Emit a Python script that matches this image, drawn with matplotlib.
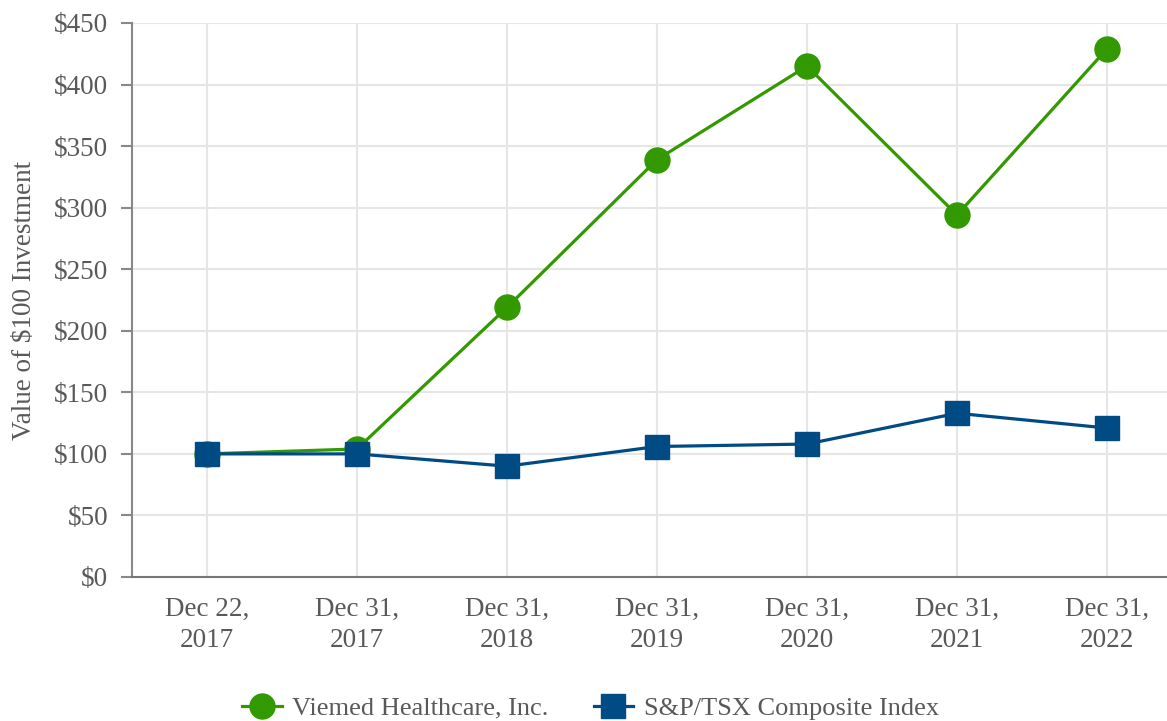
import matplotlib
matplotlib.use("Agg")
import matplotlib.pyplot as plt
from matplotlib.ticker import FuncFormatter

categories = ["Dec 22,\n2017", "Dec 31,\n2017", "Dec 31,\n2018", "Dec 31,\n2019",
              "Dec 31,\n2020", "Dec 31,\n2021", "Dec 31,\n2022"]
viemed = [100, 104, 219, 339, 415, 294, 429]
sptsx = [100, 100, 90, 106, 108, 133, 121]
yticks = [0, 50, 100, 150, 200, 250, 300, 350, 400, 450]

GREEN = "#339900"
BLUE = "#004b84"
TXT = "#595959"
FS = 19.5

plt.rcParams['font.family'] = ['Liberation Serif', 'DejaVu Serif']

fig = plt.figure(figsize=(11.67, 7.21), dpi=100)
ax = fig.add_axes([132/1167, 1 - 577/721, (1167-132)/1167, (577-23)/721])

x = list(range(len(categories)))
ax.plot(x, viemed, color=GREEN, lw=2.3, marker='o', ms=18, label="Viemed Healthcare, Inc.", zorder=3)
ax.plot(x, sptsx, color=BLUE, lw=2.3, marker='s', ms=17, label="S&P/TSX Composite Index", zorder=4)

ax.set_xlim(-0.5, 6.4)
ax.set_ylim(0, 450)
ax.set_yticks(yticks)
ax.yaxis.set_major_formatter(FuncFormatter(lambda v, p: f"${int(v)}"))
ax.set_xticks(x)
ax.set_xticklabels(categories)
ax.grid(True, color="#e6e6e6", lw=1.5, zorder=0)
ax.set_axisbelow(True)
for s in ["top", "right"]:
    ax.spines[s].set_visible(False)
ax.spines["left"].set_color("#888888")
ax.spines["bottom"].set_color("#777777")
ax.spines["left"].set_linewidth(1.5)
ax.spines["bottom"].set_linewidth(1.5)
ax.tick_params(axis='y', length=8, width=1.5, color="#888888", labelsize=FS, labelcolor=TXT, pad=9)
ax.tick_params(axis='x', length=0, labelsize=FS, labelcolor=TXT, pad=14)
for t in ax.get_xticklabels():
    t.set_linespacing(1.35)
ax.set_ylabel("Value of $100 Investment", fontsize=FS, color=TXT, labelpad=12)

leg = fig.legend(loc='center', bbox_to_anchor=(0.5 + 7/1167, 1 - 708/721), ncol=2, frameon=False,
                 fontsize=19, handlelength=1.5, columnspacing=1.7, handletextpad=0.4,
                 markerscale=1.0)
for t in leg.get_texts():
    t.set_color(TXT)

fig.savefig("out.png", dpi=100)
